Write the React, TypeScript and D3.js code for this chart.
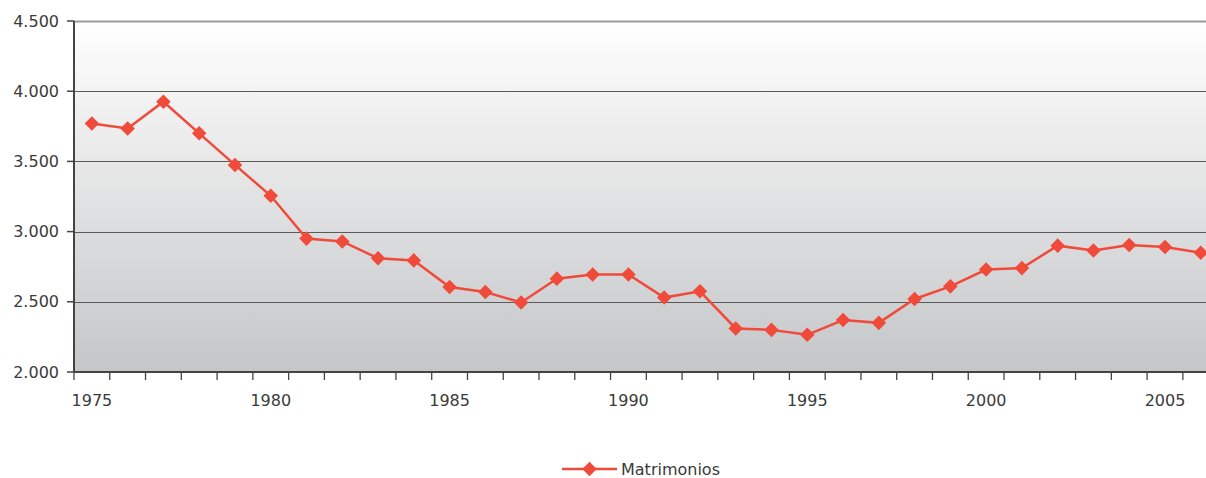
import React, { useEffect, useRef } from 'react';
import * as d3 from 'd3';

const years: number[] = d3.range(1975, 2007);
const matrimonios: number[] = [
  3770, 3735, 3925, 3700, 3475, 3255, 2950, 2930, 2810, 2795,
  2605, 2570, 2495, 2665, 2695, 2695, 2530, 2575, 2310, 2300,
  2265, 2370, 2350, 2520, 2610, 2730, 2740, 2900, 2865, 2905,
  2890, 2850,
];
const yTicks: number[] = [2000, 2500, 3000, 3500, 4000, 4500];
const xLabels: number[] = [1975, 1980, 1985, 1990, 1995, 2000, 2005];
const seriesName = 'Matrimonios';

const W = 1206;
const H = 478;
const FONT = '"DejaVu Sans", sans-serif';
const FS = 16;
const RED = '#f04a3a';

const App = () => {
  const ref = useRef<SVGSVGElement | null>(null);

  useEffect(() => {
    const svg = d3.select(ref.current);
    svg.selectAll('*').remove();

    const margin = { top: 21, left: 74, bottom: 106 };
    const plotBottom = H - margin.bottom; // 372
    // plot is wider than the picture: the last band is cut at the right edge
    const plotRight = margin.left + 32 * 35.77;

    const x = d3.scaleBand<number>()
      .domain(years)
      .range([margin.left, plotRight]);
    const y = d3.scaleLinear()
      .domain([2000, 4500])
      .range([plotBottom, margin.top]);

    const defs = svg.append('defs');
    const grad = defs.append('linearGradient')
      .attr('id', 'bg')
      .attr('x1', 0).attr('y1', 0).attr('x2', 0).attr('y2', 1);
    grad.append('stop').attr('offset', '0%').attr('stop-color', '#ffffff');
    grad.append('stop').attr('offset', '100%').attr('stop-color', '#c5c6c8');

    svg.append('rect')
      .attr('x', margin.left)
      .attr('y', margin.top)
      .attr('width', plotRight - margin.left)
      .attr('height', plotBottom - margin.top)
      .attr('fill', 'url(#bg)');

    // gridlines
    svg.append('g')
      .selectAll('line')
      .data(yTicks.filter(t => t > 2000))
      .join('line')
      .attr('x1', margin.left)
      .attr('x2', plotRight)
      .attr('y1', d => Math.round(y(d)) + 0.5)
      .attr('y2', d => Math.round(y(d)) + 0.5)
      .attr('stroke', d => (d === 4500 ? '#9a9a9a' : '#5a5a5a'))
      .attr('stroke-width', d => (d === 4500 ? 2 : 1.2));

    // y axis
    const yAxis = svg.append('g');
    yAxis.append('line')
      .attr('x1', margin.left).attr('x2', margin.left)
      .attr('y1', margin.top).attr('y2', plotBottom)
      .attr('stroke', '#444').attr('stroke-width', 2);
    yAxis.selectAll('line.tick')
      .data(yTicks)
      .join('line')
      .attr('class', 'tick')
      .attr('x1', margin.left - 7).attr('x2', margin.left)
      .attr('y1', d => y(d)).attr('y2', d => y(d))
      .attr('stroke', '#444').attr('stroke-width', 1.5);
    yAxis.selectAll('text')
      .data(yTicks)
      .join('text')
      .attr('x', margin.left - 15)
      .attr('y', d => y(d))
      .attr('dy', '0.35em')
      .attr('text-anchor', 'end')
      .attr('font-family', FONT)
      .attr('font-size', FS)
      .attr('fill', '#3a3a3a')
      .text(d => d3.format(',')(d).replace(',', '.'));

    // x axis
    const xAxis = svg.append('g');
    xAxis.append('line')
      .attr('x1', margin.left).attr('x2', plotRight)
      .attr('y1', plotBottom).attr('y2', plotBottom)
      .attr('stroke', '#444').attr('stroke-width', 2);
    xAxis.selectAll('line.tick')
      .data(years)
      .join('line')
      .attr('class', 'tick')
      .attr('x1', d => x(d)!).attr('x2', d => x(d)!)
      .attr('y1', plotBottom).attr('y2', plotBottom + 8)
      .attr('stroke', '#444').attr('stroke-width', 1.3);
    xAxis.selectAll('text')
      .data(xLabels)
      .join('text')
      .attr('x', d => x(d)! + x.bandwidth() / 2)
      .attr('y', plotBottom + 34)
      .attr('text-anchor', 'middle')
      .attr('font-family', FONT)
      .attr('font-size', FS)
      .attr('fill', '#3a3a3a')
      .text(d => String(d));

    // series
    const pts = years.map((yr, i) => ({ yr, v: matrimonios[i] }));
    const cx = (d: { yr: number }) => x(d.yr)! + x.bandwidth() / 2;
    const line = d3.line<{ yr: number; v: number }>()
      .x(cx)
      .y(d => y(d.v));
    svg.append('path')
      .datum(pts)
      .attr('fill', 'none')
      .attr('stroke', RED)
      .attr('stroke-width', 2.5)
      .attr('d', line);

    const diamond = d3.symbol().type(d3.symbolDiamond2).size(135);
    svg.append('g')
      .selectAll('path')
      .data(pts)
      .join('path')
      .attr('transform', d => `translate(${cx(d)},${y(d.v)})`)
      .attr('d', diamond())
      .attr('fill', RED);

    // legend
    const lg = svg.append('g').attr('transform', 'translate(562,469)');
    lg.append('line')
      .attr('x1', 0).attr('x2', 55)
      .attr('stroke', RED).attr('stroke-width', 2.5);
    lg.append('path')
      .attr('transform', 'translate(27.5,0)')
      .attr('d', diamond())
      .attr('fill', RED);
    lg.append('text')
      .attr('x', 59)
      .attr('y', 0)
      .attr('dy', '0.35em')
      .attr('font-family', FONT)
      .attr('font-size', FS)
      .attr('fill', '#3a3a3a')
      .text(seriesName);
  }, []);

  return (
    <svg
      ref={ref}
      width={W}
      height={H}
      style={{ position: 'absolute', left: 0, top: 0, display: 'block', background: '#fff' }}
    />
  );
};

export default App;
